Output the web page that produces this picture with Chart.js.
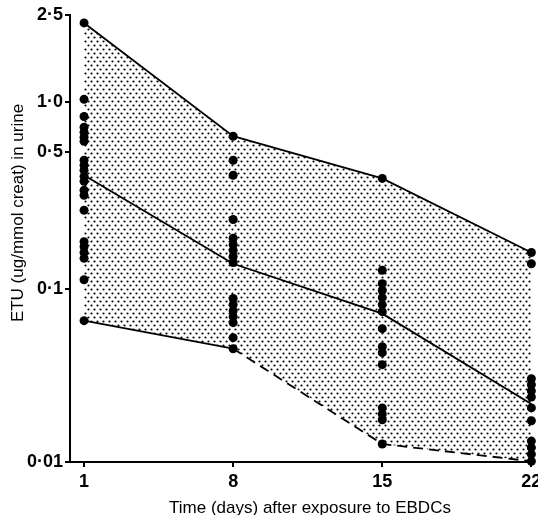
<!DOCTYPE html>
<html>
<head>
<meta charset="utf-8">
<script src="https://cdn.jsdelivr.net/npm/chart.js@4/dist/chart.umd.min.js"></script>
<style>
  html, body { margin: 0; padding: 0; background: #fff; }
  #wrap { width: 538px; height: 515px; overflow: hidden; }
</style>
</head>
<body>
<div id="wrap"><canvas id="chart" width="538" height="515"></canvas></div>
<script>
/* Datos (ETU en orina, ug/mmol creat) */
const days = [1, 8, 15, 22];
const upperValues = [2.30, 0.624, 0.367, 0.153];
const medianValues = [0.381, 0.134, 0.0717, 0.0216];
const lowerValues = [0.0653, 0.045, 0.0127, 0.0101];

const day1Values = [2.30, 1.03, 0.82, 0.707, 0.66, 0.615, 0.582, 0.455, 0.429, 0.404, 0.376, 0.355,
                    0.319, 0.301, 0.252, 0.174, 0.164, 0.153, 0.143, 0.111, 0.0653];
const day8Values = [0.624, 0.455, 0.381, 0.226, 0.181, 0.168, 0.157, 0.146, 0.136,
                    0.0876, 0.0808, 0.0746, 0.0689, 0.0636, 0.0521, 0.045];
const day15Values = [0.367, 0.124, 0.106, 0.0974, 0.0887, 0.0808, 0.0736, 0.0587, 0.0462,
                     0.0427, 0.0364, 0.0205, 0.0189, 0.0175, 0.0127];
const day22Values = [0.153, 0.134, 0.0302, 0.0279, 0.0257, 0.0237, 0.0205, 0.0173,
                     0.0132, 0.0121, 0.0111, 0.0101];

const yTickValues = [0.01, 0.1, 0.5, 1.0, 2.5];
const yTickLabels = ['0·01', '0·1', '0·5', '1·0', '2·5'];

const xTitle = 'Time (days) after exposure to EBDCs';
const yTitle = 'ETU (ug/mmol creat) in urine';

/* El eje del original no es un log exacto: se interpola entre las marcas */
const anchorFractions = [0, 0.388, 0.693, 0.805, 1];

class WarpedLogScale extends Chart.LogarithmicScale {
    decimalFor(value) {
        const lv = Math.log10(value);
        const la = yTickValues.map(v => Math.log10(v));
        let i = 0;
        while (i < la.length - 2 && lv > la[i + 1]) i++;
        const t = (lv - la[i]) / (la[i + 1] - la[i]);
        return anchorFractions[i] + t * (anchorFractions[i + 1] - anchorFractions[i]);
    }
    getPixelForValue(value) {
        if (value === undefined || value === 0) value = this.min;
        if (value === null || isNaN(value)) return NaN;
        return this.getPixelForDecimal(this.decimalFor(value));
    }
    getValueForPixel(pixel) {
        const d = this.getDecimalForPixel(pixel);
        const la = yTickValues.map(v => Math.log10(v));
        let i = 0;
        while (i < anchorFractions.length - 2 && d > anchorFractions[i + 1]) i++;
        const t = (d - anchorFractions[i]) / (anchorFractions[i + 1] - anchorFractions[i]);
        return Math.pow(10, la[i] + t * (la[i + 1] - la[i]));
    }
}
WarpedLogScale.id = 'warpedLog';
WarpedLogScale.defaults = Chart.LogarithmicScale.defaults;
Chart.register(WarpedLogScale);

/* Trama de puntos para la zona sombreada */
function dotPattern() {
    const c = document.createElement('canvas');
    c.width = 6; c.height = 8;
    const p = c.getContext('2d');
    p.fillStyle = '#000';
    p.beginPath(); p.arc(1.5, 1.5, 1.1, 0, Math.PI * 2); p.fill();
    p.beginPath(); p.arc(4.5, 5.5, 1.1, 0, Math.PI * 2); p.fill();
    return document.getElementById('chart').getContext('2d').createPattern(c, 'repeat');
}

/* Títulos de los ejes, colocados como en el original */
const axisTitles = {
    id: 'axisTitles',
    afterDraw(chart) {
        const c = chart.ctx;
        c.save();
        c.fillStyle = '#000';
        c.font = '17px "Liberation Sans"';
        c.textAlign = 'center';
        c.textBaseline = 'middle';
        c.fillText(xTitle, 310, 508);
        c.translate(18, 213);
        c.rotate(-Math.PI / 2);
        c.fillText(yTitle, 0, 0);
        c.restore();
    }
};

const toPoints = (day, vals) => vals.map(v => ({ x: day, y: v }));
const scatterPoints = [].concat(
    toPoints(1, day1Values), toPoints(8, day8Values),
    toPoints(15, day15Values), toPoints(22, day22Values));
const linePoints = vals => days.map((d, i) => ({ x: d, y: vals[i] }));

const tickFont = { family: 'Liberation Sans', size: 18, weight: 'bold' };

new Chart(document.getElementById('chart'), {
    type: 'scatter',
    data: {
        datasets: [
            {
                label: 'individual',
                data: scatterPoints,
                pointRadius: 4.5,
                pointBackgroundColor: '#000',
                pointBorderWidth: 0,
                showLine: false,
                clip: false
            },
            {
                label: 'median',
                data: linePoints(medianValues),
                showLine: true,
                borderColor: '#000',
                borderWidth: 1.8,
                pointRadius: 0,
                clip: false
            },
            {
                label: 'upper',
                data: linePoints(upperValues),
                showLine: true,
                borderColor: '#000',
                borderWidth: 1.8,
                pointRadius: 0,
                clip: false
            },
            {
                label: 'lower',
                data: linePoints(lowerValues),
                showLine: true,
                borderColor: '#000',
                borderWidth: 1.8,
                pointRadius: 0,
                fill: { target: 2 },
                backgroundColor: dotPattern(),
                segment: {
                    borderDash: ctx => ctx.p0DataIndex >= 1 ? [10, 6] : undefined
                },
                clip: false
            }
        ]
    },
    plugins: [axisTitles],
    options: {
        responsive: false,
        animation: false,
        layout: { padding: { top: 15, left: 0, right: 0, bottom: 0 } },
        plugins: {
            legend: { display: false },
            tooltip: { enabled: false }
        },
        scales: {
            x: {
                type: 'linear',
                min: 0.34,
                max: 22.1,
                afterBuildTicks: scale => { scale.ticks = days.map(d => ({ value: d })); },
                afterFit: scale => {
                    scale.height = 53;
                    scale.paddingLeft = 0;
                    scale.paddingRight = 0;
                },
                ticks: {
                    color: '#000',
                    font: tickFont,
                    padding: 4,
                    maxRotation: 0,
                    callback: v => String(v)
                },
                grid: { drawOnChartArea: false, color: '#000', lineWidth: 2, tickLength: 5 },
                border: { color: '#000', width: 2 }
            },
            y: {
                type: 'warpedLog',
                min: 0.01,
                max: 2.5,
                afterBuildTicks: scale => { scale.ticks = yTickValues.map(v => ({ value: v })); },
                afterFit: scale => {
                    scale.width = 70;
                    scale.paddingTop = 0;
                    scale.paddingBottom = 0;
                },
                ticks: {
                    color: '#000',
                    font: tickFont,
                    padding: 2,
                    callback: v => yTickLabels[yTickValues.indexOf(v)]
                },
                grid: { drawOnChartArea: false, color: '#000', lineWidth: 2, tickLength: 5 },
                border: { color: '#000', width: 2 }
            }
        }
    }
});
</script>
</body>
</html>
